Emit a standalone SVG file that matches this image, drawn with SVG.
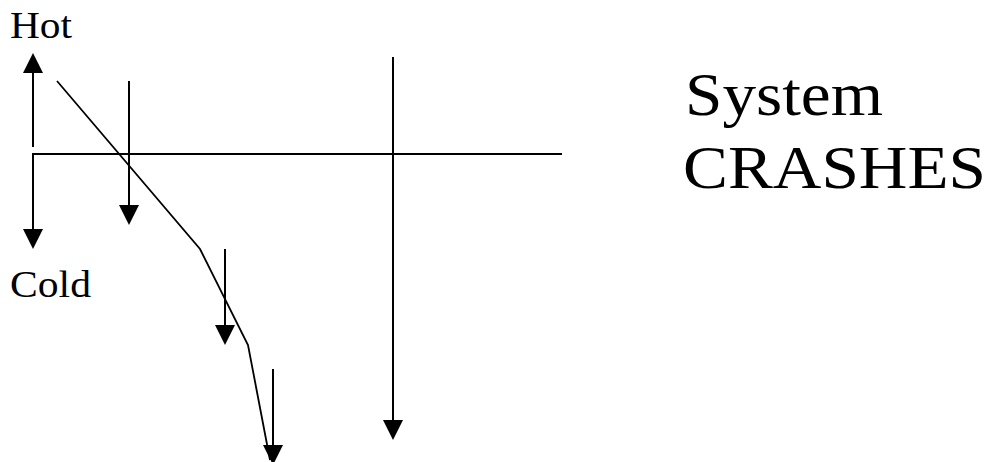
<svg xmlns="http://www.w3.org/2000/svg" width="995" height="462" viewBox="0 0 995 462">
<style>
  .ln { stroke: #000; stroke-width: 2; fill: none; }
  .curve { stroke: #000; stroke-width: 1.8; fill: none; stroke-linejoin: miter; }
  .lbl { font-family: "Liberation Serif", "Times New Roman", serif; fill: #000; }
</style>
<defs>
  <marker id="ah" markerUnits="userSpaceOnUse" markerWidth="20" markerHeight="20" refX="0" refY="10" orient="auto" overflow="visible">
    <path d="M0,0 L20,10 L0,20 z" fill="#000"/>
  </marker>
</defs>
<rect width="995" height="462" fill="#fff"/>
<g id="hot-label"><text class="lbl" x="10" y="38" font-size="37" textLength="62" lengthAdjust="spacingAndGlyphs">Hot</text></g>
<g id="cold-label"><text class="lbl" x="10" y="297" font-size="38" textLength="81" lengthAdjust="spacingAndGlyphs">Cold</text></g>
<g id="system-crashes">
  <text class="lbl" x="685" y="115" font-size="61" textLength="198" lengthAdjust="spacingAndGlyphs">System</text>
  <text class="lbl" x="683" y="188" font-size="61" textLength="303" lengthAdjust="spacingAndGlyphs">CRASHES</text>
</g>
<g id="connectors">
  <line class="ln" x1="33" y1="147" x2="33" y2="73" marker-end="url(#ah)"/>
  <line class="ln" x1="33" y1="154" x2="33" y2="229" marker-end="url(#ah)"/>
  <line class="ln" x1="32" y1="154" x2="562" y2="154"/>
  <line class="ln" x1="129" y1="81" x2="129" y2="205" marker-end="url(#ah)"/>
  <line class="ln" x1="225" y1="249" x2="225" y2="325" marker-end="url(#ah)"/>
  <line class="ln" x1="273" y1="369" x2="273" y2="445" marker-end="url(#ah)"/>
  <line class="ln" x1="393" y1="57" x2="393" y2="420" marker-end="url(#ah)"/>
  <polyline class="curve" points="57,81 200,249 248,345 270,460"/>
</g>
</svg>
